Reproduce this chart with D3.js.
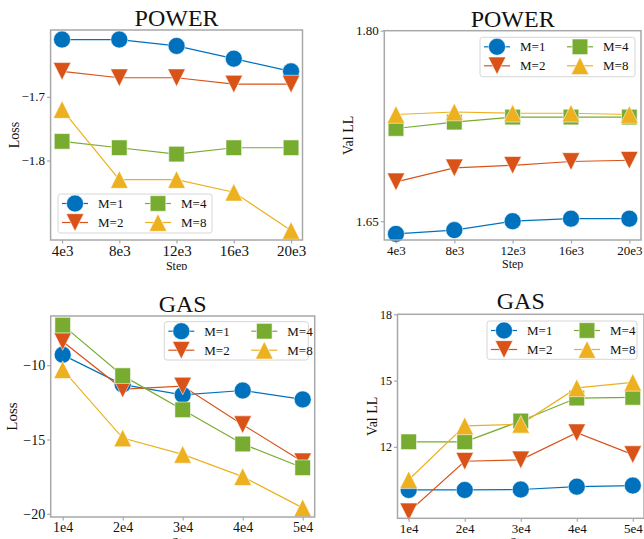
<!DOCTYPE html>
<html>
<head>
<meta charset="utf-8">
<script src="https://cdn.jsdelivr.net/npm/d3@7"></script>
<style>
  body { margin: 0; background: #fff; }
  svg { display: block; }
  text { font-family: "Liberation Serif", "DejaVu Serif", serif; fill: #111; }
</style>
</head>
<body>
<svg id="fig" width="644" height="539"></svg>
<script>
// ---- data ----
const seriesNames = ["M=1", "M=2", "M=4", "M=8"];
const seriesColors = ["#0072BD", "#D95319", "#77AC30", "#EDB120"];
const seriesShapes = ["circle", "triangleDown", "square", "triangleUp"];

const powerSteps = [4, 8, 12, 16, 20];
const powerStepLabels = ["4e3", "8e3", "12e3", "16e3", "20e3"];
const gasSteps = [1, 2, 3, 4, 5];
const gasStepLabels = ["1e4", "2e4", "3e4", "4e4", "5e4"];

// POWER, training loss
const powerLossM1 = [-1.61, -1.61, -1.62, -1.64, -1.66];
const powerLossM2 = [-1.66, -1.67, -1.67, -1.68, -1.68];
const powerLossM4 = [-1.77, -1.78, -1.79, -1.78, -1.78];
const powerLossM8 = [-1.72, -1.83, -1.83, -1.85, -1.91];

// POWER, validation log-likelihood
const powerValM1 = [1.640, 1.643, 1.650, 1.652, 1.652];
const powerValM2 = [1.681, 1.692, 1.694, 1.697, 1.698];
const powerValM4 = [1.723, 1.728, 1.732, 1.732, 1.732];
const powerValM8 = [1.734, 1.736, 1.735, 1.735, 1.734];

// GAS, training loss
const gasLossM1 = [-9.3, -11.3, -12.0, -11.7, -12.3];
const gasLossM2 = [-8.4, -11.6, -11.4, -14.0, -16.5];
const gasLossM4 = [-7.3, -10.7, -13.0, -15.3, -16.9];
const gasLossM8 = [-10.3, -14.9, -16.0, -17.5, -19.6];

// GAS, validation log-likelihood
const gasValM1 = [10.05, 10.05, 10.07, 10.20, 10.25];
const gasValM2 = [9.06, 11.35, 11.41, 12.64, 11.65];
const gasValM4 = [12.23, 12.23, 13.17, 14.21, 14.24];
const gasValM8 = [10.51, 12.95, 13.02, 14.67, 14.92];

// ---- layout of the four panels ----
const panels = [
  { id: "p1", title: "POWER", ylabel: "Loss", clip: [0, 0, 322, 270],
    steps: powerSteps, stepLabels: powerStepLabels,
    series: [powerLossM1, powerLossM2, powerLossM4, powerLossM8],
    box: { left: 50.6, right: 302.5, top: 30, bottom: 240 },
    yTicks: [-1.7, -1.8], yFormat: d3.format(".1f"), yMax: null,
    titleY: 26, xTickSize: 15, yTickSize: 13, labelSize: 14,
    ylabelX: 14, stepY: 270, legend: { x: 58, y: 194, w: 154, h: 39 } },
  { id: "p2", title: "POWER", ylabel: "Val LL", clip: [322, 0, 322, 270],
    steps: powerSteps, stepLabels: powerStepLabels,
    series: [powerValM1, powerValM2, powerValM4, powerValM8],
    box: { left: 384.3, right: 641, top: 30.7, bottom: 240 },
    yTicks: [1.65, 1.80], yFormat: d3.format(".2f"), yMax: 1.80,
    titleY: 26.5, xTickSize: 13, yTickSize: 13, labelSize: 14,
    ylabelX: 348, stepY: 268, legend: { x: 480, y: 37.3, w: 155, h: 39.4 } },
  { id: "p3", title: "GAS", ylabel: "Loss", clip: [0, 270, 322, 269],
    steps: gasSteps, stepLabels: gasStepLabels,
    series: [gasLossM1, gasLossM2, gasLossM4, gasLossM8],
    box: { left: 50.7, right: 314.7, top: 316, bottom: 517 },
    yTicks: [-10, -15, -20], yFormat: d3.format("d"), yMax: null,
    titleY: 311.5, xTickSize: 14, yTickSize: 14, labelSize: 15,
    ylabelX: 12, stepY: 546, legend: { x: 164.3, y: 321.7, w: 144, h: 38.3 } },
  { id: "p4", title: "GAS", ylabel: "Val LL", clip: [322, 270, 322, 269],
    steps: gasSteps, stepLabels: gasStepLabels,
    series: [gasValM1, gasValM2, gasValM4, gasValM8],
    box: { left: 397.5, right: 644, top: 314.3, bottom: 518.3 },
    yTicks: [12, 15, 18], yFormat: d3.format("d"), yMax: 18,
    titleY: 309, xTickSize: 13, yTickSize: 12, labelSize: 14,
    ylabelX: 372, stepY: 546, legend: { x: 487, y: 321, w: 150, h: 38.3 } }
];

const svg = d3.select("#fig");
const defs = svg.append("defs");
const frameColor = "#a8a8a8";

// matplotlib-like markers, centred on the data point
function markerPath(shape) {
  if (shape === "circle") return d3.symbol(d3.symbolCircle, Math.PI * 8.5 * 8.5)();
  if (shape === "square") return "M-7.8,-7.8H7.8V7.8H-7.8Z";
  if (shape === "triangleUp") return "M0,-8.8L8.8,8.8L-8.8,8.8Z";
  return "M0,8.8L8.8,-8.8L-8.8,-8.8Z";
}

function padded(values, frac) {
  const [lo, hi] = d3.extent(values);
  const pad = (hi - lo) * frac;
  return [lo - pad, hi + pad];
}

function drawPanel(p) {
  defs.append("clipPath").attr("id", p.id + "-clip")
    .append("rect")
      .attr("x", p.clip[0]).attr("y", p.clip[1])
      .attr("width", p.clip[2]).attr("height", p.clip[3]);

  const g = svg.append("g").attr("clip-path", `url(#${p.id}-clip)`);
  const b = p.box;

  const yDom = padded(p.series.flat(), 0.05);
  if (p.yMax !== null) yDom[1] = p.yMax;

  const x = d3.scaleLinear().domain(padded(p.steps, 0.05)).range([b.left, b.right]);
  const y = d3.scaleLinear().domain(yDom).range([b.bottom, b.top]);

  // axes
  const xAxis = d3.axisBottom(x)
      .tickValues(p.steps)
      .tickFormat((d, i) => p.stepLabels[i])
      .tickSize(3.5)
      .tickPadding(2);
  const yAxis = d3.axisLeft(y)
      .tickValues(p.yTicks)
      .tickFormat(p.yFormat)
      .tickSize(3.5)
      .tickPadding(2);

  g.append("g")
      .attr("transform", `translate(0,${b.bottom})`)
      .call(xAxis)
      .call(a => a.select(".domain").remove())
      .call(a => a.selectAll("line").attr("stroke", frameColor).attr("stroke-width", 1.2))
      .call(a => a.selectAll("text")
          .style("font-family", '"Liberation Serif", serif')
          .style("font-size", p.xTickSize + "px").attr("fill", "#111"));

  g.append("g")
      .attr("transform", `translate(${b.left},0)`)
      .call(yAxis)
      .call(a => a.select(".domain").remove())
      .call(a => a.selectAll("line").attr("stroke", frameColor).attr("stroke-width", 1.2))
      .call(a => a.selectAll("text")
          .style("font-family", '"Liberation Serif", serif')
          .style("font-size", p.yTickSize + "px").attr("fill", "#111"));

  // lines and markers
  const line = d3.line().x((d, i) => x(p.steps[i])).y(d => y(d));
  p.series.forEach((vals, k) => {
    g.append("path")
        .attr("d", line(vals))
        .attr("fill", "none")
        .attr("stroke", seriesColors[k])
        .attr("stroke-width", 1.2);
  });
  p.series.forEach((vals, k) => {
    g.selectAll(null)
      .data(vals)
      .join("path")
        .attr("d", markerPath(seriesShapes[k]))
        .attr("transform", (d, i) => `translate(${x(p.steps[i])},${y(d)})`)
        .attr("fill", seriesColors[k])
        .attr("stroke", "#fff")
        .attr("stroke-opacity", 0.55)
        .attr("stroke-width", 1);
  });

  // frame
  g.append("rect")
      .attr("x", b.left).attr("y", b.top)
      .attr("width", b.right - b.left).attr("height", b.bottom - b.top)
      .attr("fill", "none")
      .attr("stroke", frameColor)
      .attr("stroke-width", 1.5);

  // texts
  g.append("text")
      .attr("x", (b.left + b.right) / 2).attr("y", p.titleY)
      .attr("text-anchor", "middle")
      .style("font-size", "24px")
      .text(p.title);

  g.append("text")
      .attr("transform", `translate(${p.ylabelX},${(b.top + b.bottom) / 2}) rotate(-90)`)
      .attr("text-anchor", "middle")
      .attr("dy", "0.35em")
      .style("font-size", p.labelSize + "px")
      .text(p.ylabel);

  g.append("text")
      .attr("x", (b.left + b.right) / 2).attr("y", p.stepY)
      .attr("text-anchor", "middle")
      .style("font-size", "12px")
      .text("Step");

  // legend, two columns
  const L = p.legend;
  const lg = g.append("g");
  lg.append("rect")
      .attr("x", L.x).attr("y", L.y).attr("width", L.w).attr("height", L.h)
      .attr("rx", 2.5)
      .attr("fill", "#fff").attr("fill-opacity", 0.8)
      .attr("stroke", "#d6d6d6").attr("stroke-width", 1);

  seriesNames.forEach((name, k) => {
    const col = Math.floor(k / 2), row = k % 2;
    const mx = L.x + 17 + col * 83;
    const my = L.y + 9.5 + row * 19;
    lg.append("line")
        .attr("x1", mx - 13).attr("x2", mx + 13)
        .attr("y1", my).attr("y2", my)
        .attr("stroke", seriesColors[k]).attr("stroke-width", 1.2);
    lg.append("path")
        .attr("d", markerPath(seriesShapes[k]))
        .attr("transform", `translate(${mx},${my})`)
        .attr("fill", seriesColors[k])
        .attr("stroke", "#fff").attr("stroke-opacity", 0.55).attr("stroke-width", 1);
    lg.append("text")
        .attr("x", mx + 23).attr("y", my)
        .attr("dy", "0.35em")
        .style("font-size", "13px")
        .text(name);
  });
}

panels.forEach(drawPanel);
</script>
</body>
</html>
